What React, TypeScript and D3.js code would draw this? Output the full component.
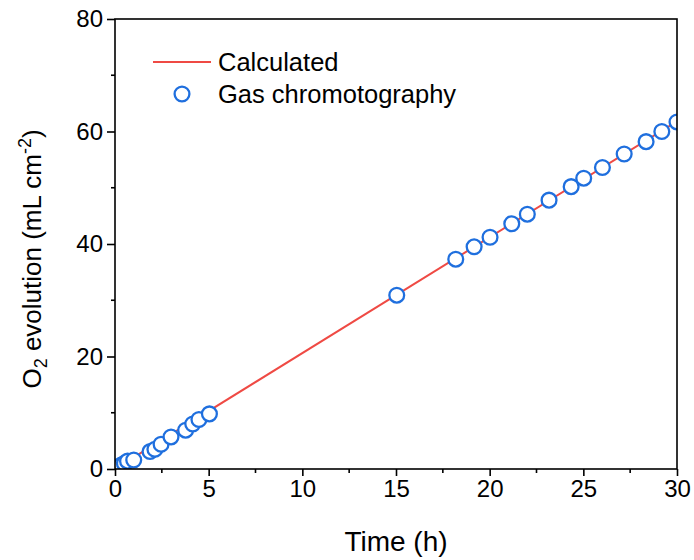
import React, { useEffect, useRef } from "react";
import * as d3 from "d3";

// gas chromatography measurements
const gcTime = [0.17, 0.33, 0.5, 0.67, 1.0, 1.87, 2.13, 2.46, 2.99, 3.77, 4.15, 4.48, 5.04, 15.04, 18.19, 19.17, 20.02, 21.18, 22.01, 23.17, 24.35, 25.02, 26.02, 27.18, 28.35, 29.19, 30.0];
const gcValue = [0.35, 0.7, 1.0, 1.4, 1.6, 3.1, 3.5, 4.4, 5.7, 6.9, 8.0, 8.8, 9.8, 30.9, 37.3, 39.5, 41.2, 43.6, 45.3, 47.8, 50.2, 51.7, 53.6, 56.0, 58.2, 60.0, 61.7];

// calculated line
const calcTime = [0, 30];
const calcValue = [0, 61.8];

const xTicks = [0, 5, 10, 15, 20, 25, 30];
const xMinor = [2.5, 7.5, 12.5, 17.5, 22.5, 27.5];
const yTicks = [0, 20, 40, 60, 80];
const yMinor = [10, 30, 50, 70];

const legendLabels = ["Calculated", "Gas chromotography"];

export default function App() {
  const ref = useRef<SVGSVGElement>(null);

  useEffect(() => {
    const svg = d3.select(ref.current);
    svg.selectAll("*").remove();

    const left = 115, right = 677, top = 19, bottom = 469;
    const font = "Arial, 'Liberation Sans', sans-serif";
    const red = "#ef4a44";
    const blue = "#1f6fde";

    const x = d3.scaleLinear().domain([0, 30]).range([left, right]);
    const y = d3.scaleLinear().domain([0, 80]).range([bottom, top]);

    svg.append("defs").append("clipPath").attr("id", "plotclip")
      .append("rect")
      .attr("x", left).attr("y", top)
      .attr("width", right - left).attr("height", bottom - top);

    const plot = svg.append("g").attr("clip-path", "url(#plotclip)");

    const line = d3.line<number>()
      .x((d, i) => x(calcTime[i]))
      .y((d) => y(d));
    plot.append("path")
      .attr("d", line(calcValue))
      .attr("fill", "none")
      .attr("stroke", red)
      .attr("stroke-width", 2);

    plot.selectAll("circle.gc")
      .data(gcValue)
      .enter()
      .append("circle")
      .attr("class", "gc")
      .attr("cx", (d, i) => x(gcTime[i]))
      .attr("cy", (d) => y(d))
      .attr("r", 7.4)
      .attr("fill", "#fff")
      .attr("stroke", blue)
      .attr("stroke-width", 2.3);

    // frame
    svg.append("rect")
      .attr("x", left).attr("y", top)
      .attr("width", right - left).attr("height", bottom - top)
      .attr("fill", "none")
      .attr("stroke", "#000")
      .attr("stroke-width", 1.6);

    // x axis
    const xAxis = d3.axisBottom(x).tickValues(xTicks).tickSize(7).tickPadding(4).tickFormat(d3.format("d"));
    const gx = svg.append("g").attr("transform", `translate(0,${bottom})`).call(xAxis);
    gx.select(".domain").remove();
    gx.selectAll("line").attr("stroke", "#000").attr("stroke-width", 1.6);
    gx.selectAll("text").attr("font-size", 24).attr("font-family", font).attr("fill", "#000");
    svg.append("g").selectAll("line")
      .data(xMinor).enter().append("line")
      .attr("x1", (d) => x(d)).attr("x2", (d) => x(d))
      .attr("y1", bottom).attr("y2", bottom + 4)
      .attr("stroke", "#000").attr("stroke-width", 1.6);

    // y axis
    const yAxis = d3.axisLeft(y).tickValues(yTicks).tickSize(8).tickPadding(4).tickFormat(d3.format("d"));
    const gy = svg.append("g").attr("transform", `translate(${left},0)`).call(yAxis);
    gy.select(".domain").remove();
    gy.selectAll("line").attr("stroke", "#000").attr("stroke-width", 1.6);
    gy.selectAll("text").attr("font-size", 24).attr("font-family", font).attr("fill", "#000");
    svg.append("g").selectAll("line")
      .data(yMinor).enter().append("line")
      .attr("x1", left - 4).attr("x2", left)
      .attr("y1", (d) => y(d)).attr("y2", (d) => y(d))
      .attr("stroke", "#000").attr("stroke-width", 1.6);

    // axis titles
    svg.append("text")
      .attr("x", (left + right) / 2)
      .attr("y", 551)
      .attr("text-anchor", "middle")
      .attr("font-size", 28)
      .attr("font-family", font)
      .text("Time (h)");

    const yt = svg.append("text")
      .attr("transform", `translate(41,${(top + bottom) / 2 + 15}) rotate(-90)`)
      .attr("text-anchor", "middle")
      .attr("font-size", 26)
      .attr("font-family", font);
    yt.append("tspan").text("O");
    yt.append("tspan").attr("font-size", 18).attr("dy", 6).text("2");
    yt.append("tspan").attr("dy", -6).text(" evolution (mL cm");
    yt.append("tspan").attr("font-size", 18).attr("dy", -10).text("-2");
    yt.append("tspan").attr("dy", 10).text(")");

    // legend
    const lg = svg.append("g");
    lg.append("line")
      .attr("x1", 153).attr("x2", 211).attr("y1", 62).attr("y2", 62)
      .attr("stroke", red).attr("stroke-width", 2);
    lg.append("circle")
      .attr("cx", 182).attr("cy", 94).attr("r", 7.4)
      .attr("fill", "#fff").attr("stroke", blue).attr("stroke-width", 2.3);
    lg.selectAll("text.lab")
      .data(legendLabels).enter().append("text")
      .attr("class", "lab")
      .attr("x", 218)
      .attr("y", (d, i) => 71 + i * 32)
      .attr("font-size", 25.5)
      .attr("font-family", font)
      .text((d) => d);
  }, []);

  return (
    <svg
      ref={ref}
      width={694}
      height={560}
      style={{ position: "absolute", left: 0, top: 0, background: "#fff" }}
    ></svg>
  );
}
